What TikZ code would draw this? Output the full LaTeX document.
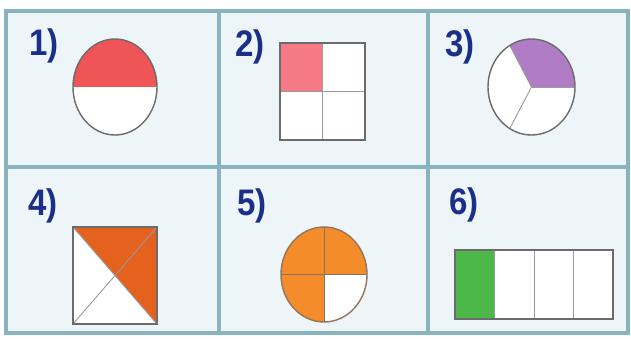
\documentclass[tikz,border=0pt]{standalone}
\usepackage{fontspec}
\setmainfont{Liberation Sans}
\usetikzlibrary{positioning}

\definecolor{framecol}{HTML}{88B3BF}
\definecolor{cellcol}{HTML}{EEF5F8}
\definecolor{labelcol}{HTML}{1B2F8A}
\definecolor{halfred}{HTML}{EF5456}
\definecolor{quartpink}{HTML}{F57A86}
\definecolor{thirdviolet}{HTML}{B07CC5}
\definecolor{halforange}{HTML}{E4621E}
\definecolor{quartorange}{HTML}{F58C2B}
\definecolor{quartgreen}{HTML}{4DB84A}
\definecolor{edgecol}{HTML}{6B6B6B}
\definecolor{partcol}{HTML}{9A9A9A}

\newcommand{\tallnum}[1]{\scalebox{1}[1.12]{#1}}

\begin{document}
\begin{tikzpicture}[
  x=1pt, y=1pt,
  numlabel/.style={text=labelcol, font=\fontsize{33}{33}\selectfont\bfseries, inner sep=0pt},
  outline/.style={draw=edgecol, line width=1.4pt},
  partline/.style={draw=partcol, line width=0.9pt},
  cellframe/.style={draw=framecol, line width=4.5pt},
]
\useasboundingbox (0,0) rectangle (631,338);

% cells
\fill[cellcol] (6,5) rectangle (628,327);
\draw[cellframe] (6,5) rectangle (628,327);
\draw[cellframe] (219,5) -- (219,327);
\draw[cellframe] (428,5) -- (428,327);
\draw[cellframe] (6,171) -- (628,171);

% labels
\node[numlabel] (n1) at (44,292) {\tallnum{1)}};
\node[numlabel] (n2) at (250,291) {\tallnum{2)}};
\node[numlabel] (n3) at (460,291) {\tallnum{3)}};
\node[numlabel] (n4) at (43,132) {\tallnum{4)}};
\node[numlabel] (n5) at (252,132) {\tallnum{5)}};
\node[numlabel] (n6) at (464,133) {\tallnum{6)}};

% 1) half circle
\coordinate (c1) at (115,251);
\fill[white] (c1) ellipse [x radius=42, y radius=48];
\fill[halfred] (c1) +(180:42 and 48) arc[start angle=180, end angle=0, x radius=42, y radius=48] -- cycle;
\draw[outline] (c1) ellipse [x radius=42, y radius=48];

% 2) quarter square
\fill[white] (280,198) rectangle (365,295);
\fill[quartpink] (280,246.5) rectangle (322.5,295);
\draw[partline] (322.5,198) -- (322.5,295);
\draw[partline] (280,246.5) -- (365,246.5);
\draw[outline] (280,198) rectangle (365,295);

% 3) third circle
\coordinate (c3) at (531.5,251);
\fill[white] (c3) ellipse [x radius=43.5, y radius=48];
\fill[thirdviolet] (c3) -- +(0:43.5 and 48) arc[start angle=0, end angle=120, x radius=43.5, y radius=48] -- cycle;
\foreach \ang in {0,120,240}
  \draw[partline] (c3) -- +(\ang:43.5 and 48);
\draw[outline] (c3) ellipse [x radius=43.5, y radius=48];

% 4) half square
\coordinate (tl4) at (73,111);
\coordinate (tr4) at (157,111);
\coordinate (br4) at (157,14);
\coordinate (bl4) at (73,14);
\fill[white] (bl4) rectangle (tr4);
\fill[halforange] (tl4) -- (tr4) -- (br4) -- cycle;
\draw[partline] (tl4) -- (br4);
\draw[partline] (bl4) -- (tr4);
\draw[outline] (bl4) rectangle (tr4);

% 5) three quarters circle
\coordinate (c5) at (324,63.5);
\fill[quartorange] (c5) ellipse [x radius=43, y radius=47.5];
\fill[white] (c5) -- +(0:43 and 47.5) arc[start angle=0, end angle=-90, x radius=43, y radius=47.5] -- cycle;
\draw[partline, draw=edgecol!80!quartorange] (c5) +(0,47.5) -- +(0,-47.5);
\draw[partline, draw=edgecol!80!quartorange] (c5) +(-43,0) -- +(43,0);
\draw[outline, draw=edgecol!70!quartorange] (c5) ellipse [x radius=43, y radius=47.5];

% 6) quarter bar
\fill[white] (455,19) rectangle (613,88);
\fill[quartgreen] (455,19) rectangle (494.5,88);
\foreach \k in {1,2,3}
  \draw[partline] (455+39.5*\k,19) -- (455+39.5*\k,88);
\draw[outline] (455,19) rectangle (613,88);
\end{tikzpicture}
\end{document}
